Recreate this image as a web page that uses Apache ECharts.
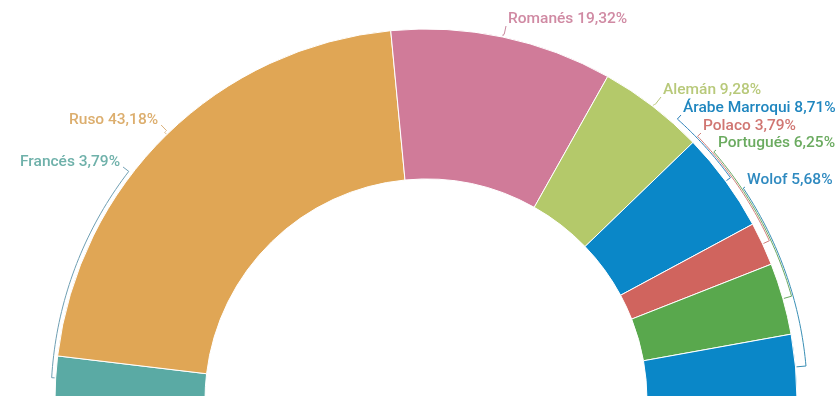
<!DOCTYPE html>
<html>
<head>
<meta charset="utf-8">
<script src="https://cdn.jsdelivr.net/npm/echarts@6/dist/echarts.min.js"></script>
<style>
  html, body { margin: 0; padding: 0; background: #ffffff; }
  #chart { width: 838px; height: 396px; }
</style>
</head>
<body>
<div id="chart"></div>
<script>
// Idiomas: share of each language (percent), drawn clockwise from the left
const languages = ['Francés', 'Ruso', 'Romanés', 'Alemán', 'Árabe Marroqui', 'Polaco', 'Portugués', 'Wolof'];
const shares = [3.79, 43.18, 19.32, 9.28, 8.71, 3.79, 6.25, 5.68];
const sliceColors = ['#5aaaa4', '#e0a655', '#d07b99', '#b4c96a', '#0a87c8', '#d0645e', '#59a84d', '#0a87c8'];
const labelColors = ['#6fb1aa', '#dcae6e', '#d08aa3', '#b8c97a', '#1f86bf', '#d07672', '#6bab60', '#2f8ac0'];
const lineColors  = ['#6f9fb3', '#d9b07a', '#c9899f', '#b6c47c', '#2a7fb8', '#cf7f7a', '#6aa862', '#3a8fb5'];

// Where each label's left edge / vertical middle sits
const labelSpots = [[20, 162], [69, 120], [508, 19], [663, 90], [683, 108], [703, 126], [718, 143], [747, 180]];
// How far outside the ring each leader bracket runs
const bracketGaps = [4, 3, 3, 3, 6, 7.5, 9, 10.5];

const chart = echarts.init(document.getElementById('chart'));

const data = languages.map((name, i) => ({
  name,
  value: shares[i],
  itemStyle: { color: sliceColors[i] },
  label: { color: labelColors[i] },
  labelLine: { lineStyle: { color: lineColors[i] } }
}));

// Leader bracket: radial hook at the slice middle, an arc just outside the ring,
// then a short step to the label.
function bracketPoints(i, labelW) {
  const lay = chart.getModel().getSeriesByIndex(0).getData().getItemLayout(i);
  const cx = lay.cx, cy = lay.cy, r = lay.r;
  const mid = (lay.startAngle + lay.endAngle) / 2;
  const [lx, ly] = labelSpots[i];
  const leftSide = lx + labelW / 2 < cx;
  const ax = leftSide ? lx + labelW + 3 : lx - 2;
  const ay = leftSide ? ly + 5 : ly + 7;
  const rr = r + bracketGaps[i];
  let sweep = Math.atan2(ay - cy, ax - cx) - mid;
  while (sweep > Math.PI) sweep -= 2 * Math.PI;
  while (sweep < -Math.PI) sweep += 2 * Math.PI;
  const pts = [[cx + (r + 1) * Math.cos(mid), cy + (r + 1) * Math.sin(mid)]];
  const steps = 40;
  for (let k = 0; k <= steps; k++) {
    const a = mid + sweep * k / steps;
    pts.push([cx + rr * Math.cos(a), cy + rr * Math.sin(a)]);
  }
  pts.push([ax, ay]);
  return pts;
}

chart.setOption({
  animation: false,
  series: [{
    type: 'pie',
    center: [426, 400],
    radius: [221, 371],
    startAngle: 180,
    endAngle: 0,
    clockwise: true,
    avoidLabelOverlap: false,
    itemStyle: { borderColor: '#ffffff', borderWidth: 1 },
    label: {
      show: true,
      position: 'outside',
      fontFamily: 'Roboto',
      fontSize: 15.5,
      fontWeight: 500,
      formatter: p => p.name + ' ' + p.value.toFixed(2).replace('.', ',') + '%'
    },
    labelLine: { show: true, smooth: false, length: 6, length2: 4, lineStyle: { width: 1 } },
    labelLayout: p => ({
      x: labelSpots[p.dataIndex][0],
      y: labelSpots[p.dataIndex][1],
      align: 'left',
      verticalAlign: 'middle',
      labelLinePoints: bracketPoints(p.dataIndex, p.labelRect.width)
    }),
    data
  }]
});
</script>
</body>
</html>
